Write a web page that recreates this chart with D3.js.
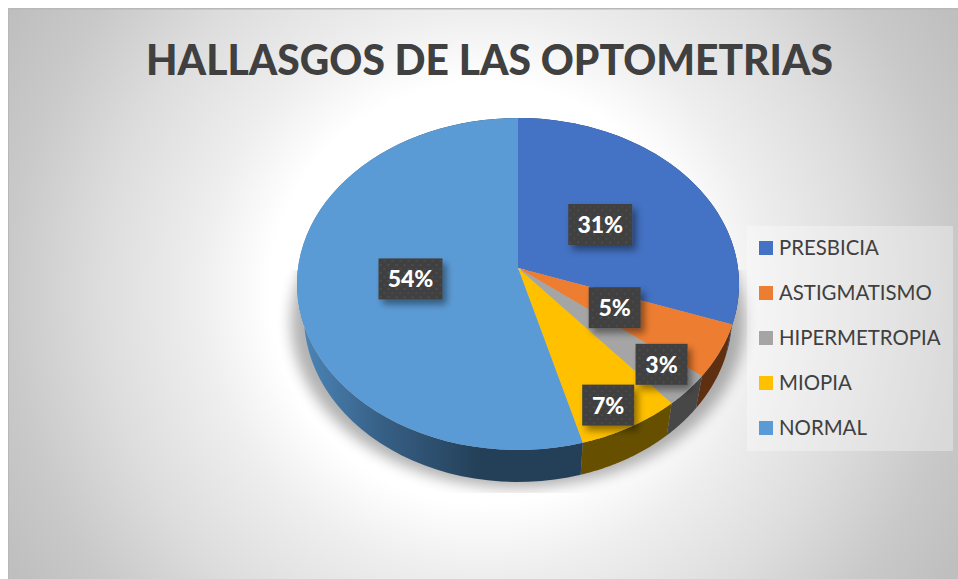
<!DOCTYPE html>
<html><head><meta charset="utf-8">
<script src="https://cdn.jsdelivr.net/npm/d3@7/dist/d3.min.js"></script>
<style>html,body{margin:0;padding:0;background:#fff}svg{display:block}</style>
</head><body><svg id="c" width="958" height="579"></svg>
<script>
const titleText = "HALLASGOS DE LAS OPTOMETRIAS";
const categories = ["PRESBICIA","ASTIGMATISMO","HIPERMETROPIA","MIOPIA","NORMAL"];
const values = [30.4,5.2,3.2,6.9,54.3];
const percentLabels = ["31%","5%","3%","7%","54%"];
const colors = ["#4472C4","#ED7D31","#A5A5A5","#FFC000","#5B9BD5"];
const sideColors = ["#203864","#5E2F10","#474747","#665000","#244058"];

const svg = d3.select("#c");
const defs = svg.append("defs");
const bg = defs.append("radialGradient").attr("id","bg").attr("gradientUnits","userSpaceOnUse")
  .attr("cx",0).attr("cy",0).attr("r",1.15).attr("gradientTransform","translate(483,293) scale(475,470)");
bg.selectAll("stop").data([[0,"#ffffff"],[0.39,"#ffffff"],[0.52,"#eeeeee"],[0.70,"#dddddd"],[0.87,"#c9c9c9"],[1,"#bfbfbf"]]).join("stop")
  .attr("offset",d=>d[0]).attr("stop-color",d=>d[1]);
defs.append("filter").attr("id","blur").attr("x","-20%").attr("y","-20%").attr("width","140%").attr("height","140%")
  .append("feGaussianBlur").attr("stdDeviation",7);
const ds = defs.append("filter").attr("id","ds").attr("x","-30%").attr("y","-30%").attr("width","170%").attr("height","170%");
ds.append("feDropShadow").attr("dx",4).attr("dy",5).attr("stdDeviation",3.5).attr("flood-color","#000").attr("flood-opacity",.42);
const pat = defs.append("pattern").attr("id","dots").attr("patternUnits","userSpaceOnUse").attr("width",8).attr("height",8);
pat.append("rect").attr("width",8).attr("height",8).attr("fill","#404040");
pat.append("circle").attr("cx",2).attr("cy",2).attr("r",1).attr("fill","#505050");
pat.append("circle").attr("cx",6).attr("cy",6).attr("r",1).attr("fill","#4b4b4b");
const wallG = defs.append("linearGradient").attr("id","wallNormal").attr("gradientUnits","userSpaceOnUse")
  .attr("x1",300).attr("x2",480).attr("y1",0).attr("y2",0);
wallG.selectAll("stop").data([[0,"#4c86b8"],[.45,"#376086"],[1,"#244058"]]).join("stop")
  .attr("offset",d=>d[0]).attr("stop-color",d=>d[1]);
defs.append("clipPath").attr("id","shadowClip").append("rect").attr("x",270).attr("y",270).attr("width",490).attr("height",223);

// chart frame
svg.append("rect").attr("x",8).attr("y",8).attr("width",950).attr("height",571).attr("fill","url(#bg)");
svg.append("rect").attr("x",8).attr("y",8).attr("width",950).attr("height",1.5).attr("fill","#b8b8b8");
svg.append("rect").attr("x",8).attr("y",8).attr("width",1).attr("height",571).attr("fill","#b8b8b8");

// perspective projection of the pie disc
const apex = {x:518,y:268};
const depth = 32, topRx = 221, sideRx = 214;
const k = -0.0964, sy = 164.46, sx = 220;
const projTop = (a,r=1)=>{
  const x = r*Math.sin(a), y = -r*Math.cos(a), w = 1+k*y;
  return [apex.x + sx*x/w, apex.y + sy*y/w];
};
const projSide = a=>{
  const [px,py] = projTop(a);
  return [apex.x + (px-apex.x)*sideRx/topRx, py+depth];
};
const arcs = d3.pie().sort(null).value(d=>d)(values);
const line = d3.line();
const arcPts = (f,a0,a1)=>d3.range(0,61).map(i=>f(a0+(a1-a0)*i/60));

// soft shadow
const shadowArc = d3.range(0,121).map(i=>{
  const [px,py] = projSide(i/120*2*Math.PI);
  return [apex.x + (px-apex.x)*1.06, py+6];
});
svg.append("g").attr("clip-path","url(#shadowClip)")
  .append("path").attr("d",line(shadowArc)+"Z")
  .attr("fill","#000").attr("opacity",.3).attr("filter","url(#blur)");

// side walls
svg.append("g").selectAll("path").data(arcs).join("path")
  .attr("d",d=>line(arcPts(projTop,d.startAngle,d.endAngle).concat(arcPts(projSide,d.startAngle,d.endAngle).reverse()))+"Z")
  .attr("fill",(d,i)=>i===4?"url(#wallNormal)":sideColors[i]);

// top faces
svg.append("g").selectAll("path").data(arcs).join("path")
  .attr("d",d=>line([projTop(0,0)].concat(arcPts(projTop,d.startAngle,d.endAngle)))+"Z")
  .attr("fill",(d,i)=>colors[i]);

// legend
svg.append("rect").attr("x",747).attr("y",226).attr("width",206).attr("height",225)
  .attr("fill","#fff").attr("fill-opacity",.32);
const legendY = d3.scalePoint().domain(categories).range([248,428]);
const lg = svg.append("g").selectAll("g").data(categories).join("g");
lg.append("rect").attr("x",759).attr("y",d=>legendY(d)-7).attr("width",14).attr("height",14)
  .attr("fill",(d,i)=>colors[i]);
lg.append("text").attr("x",779).attr("y",d=>legendY(d)+7).text(d=>d)
  .attr("font-family","Lato").attr("font-size",20.4).attr("fill","#404040");

// data labels
const labelR = [.47,.49,.83,.86,.49];
const labelShift = [0,0,-.035,.03,0];
const lab = svg.append("g").selectAll("g").data(arcs).join("g")
  .attr("transform",(d,i)=>{
    const [x,y] = projTop((d.startAngle+d.endAngle)/2+labelShift[i],labelR[i]);
    return `translate(${x},${y})`;
  });
lab.append("rect")
  .attr("x",(d,i)=>-(percentLabels[i].length===3?32:26)).attr("y",-20.5)
  .attr("width",(d,i)=>percentLabels[i].length===3?64:52).attr("height",41)
  .attr("fill","url(#dots)").attr("filter","url(#ds)");
lab.append("text").attr("text-anchor","middle").attr("y",8.5).text((d,i)=>percentLabels[i])
  .attr("font-family","Lato").attr("font-weight",900).attr("font-size",23).attr("fill","#fff");

// title
svg.append("text").attr("x",489.5).attr("y",75).attr("text-anchor","middle").text(titleText)
  .attr("textLength",687).attr("lengthAdjust","spacingAndGlyphs")
  .attr("font-family","Lato").attr("font-weight",900).attr("font-size",42).attr("fill","#404040");
</script></body></html>
